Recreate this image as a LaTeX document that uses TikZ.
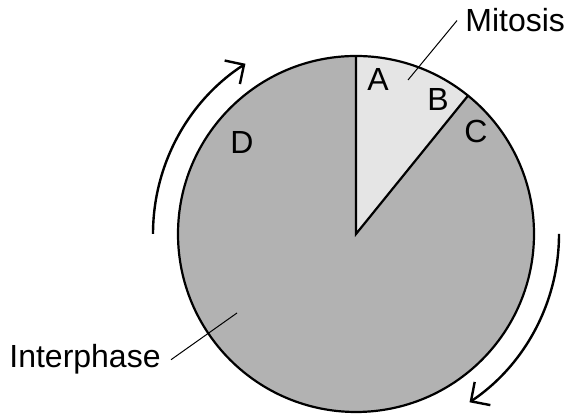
\documentclass[tikz,border=0pt]{standalone}
\usepackage{fontspec}
\setmainfont{Liberation Sans}
\usetikzlibrary{arrows.meta, positioning}

\begin{document}
\begin{tikzpicture}[x=0.5pt, y=0.5pt, font=\fontsize{16}{19}\selectfont,
    phase/.style={draw, line width=1.1pt},
    leader/.style={line width=0.5pt},
    cycle arrow/.style={line width=1.2pt, -{Straight Barb[length=7pt, width=14pt]}}]
    \useasboundingbox (0,0) rectangle (567,415);
    \coordinate (o) at (356,181);
    \coordinate (top) at (356,359);
    \coordinate (cut) at (468,319.3);

    % phases
    \fill[black!30] (o) circle (178);
    \fill[black!10] (o) -- (top) arc (90:51:178) -- cycle;
    \draw[phase] (o) circle (178);
    \draw[phase] (top) -- (o) -- (cut);

    \node (A) at (378,335) {A};
    \node (B) at (438,315) {B};
    \node (C) at (476,284) {C};
    \node (D) at (242,272) {D};

    % labels
    \node[anchor=base west, inner sep=0] (mitosis) at (465,383) {Mitosis};
    \node[anchor=base east, inner sep=0] (interphase) at (161,47) {Interphase};
    \coordinate (m_end) at (408,335);
    \coordinate (i_end) at (237,102);
    \draw[leader] ([xshift=-4]mitosis.west) -- (m_end);
    \draw[leader] ([xshift=5]interphase.east) -- (i_end);

    % direction of the cycle
    \draw[cycle arrow] (o) ++(180:203) arc (180:123:203);
    \draw[cycle arrow] (o) ++(0:203) arc (0:-56:203);
\end{tikzpicture}
\end{document}
